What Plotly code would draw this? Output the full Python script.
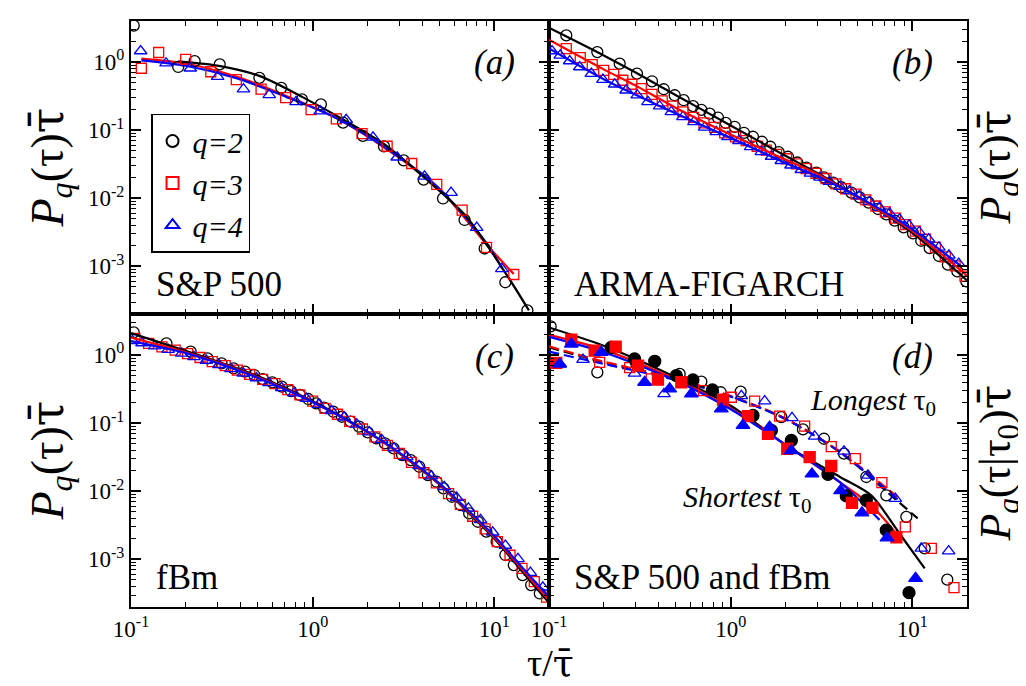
import plotly.graph_objects as go

SERIF = "Liberation Serif"
TAUBAR = '<span style="font-family:DejaVu Serif">τ̄</span>'
BLACK, RED, BLUE = "#000000", "#ff0000", "#0000ff"

# ---------------- Panel (a): S&P 500 ----------------
A_Q2_X = [0.1035, 0.182, 0.224, 0.308, 0.509, 0.672, 0.873, 1.11, 1.47, 1.89, 2.47, 3.17, 4.08, 5.22, 6.86, 8.85, 11.5, 15.2]
A_Q2_Y = [3.43, 0.846, 1.03, 0.925, 0.585, 0.418, 0.282, 0.239, 0.129, 0.0824, 0.0576, 0.036, 0.0188, 0.00993, 0.0048, 0.00183, 0.000585, 0.000226]
A_Q3_X = [0.114, 0.142, 0.2, 0.275, 0.38, 0.52, 0.71, 0.98, 1.35, 1.87, 2.57, 3.51, 4.82, 6.65, 9.06, 12.8]
A_Q3_Y = [0.81, 1.38, 1.09, 0.72, 0.55, 0.4, 0.3, 0.2, 0.146, 0.089, 0.058, 0.0324, 0.016, 0.0067, 0.0019, 0.00076]
A_Q4_X = [0.113, 0.156, 0.212, 0.30, 0.416, 0.577, 0.81, 1.1, 1.53, 2.15, 2.92, 4.13, 5.78, 8.0, 11.0]
A_Q4_Y = [1.45, 0.96, 0.81, 0.61, 0.4, 0.33, 0.26, 0.19, 0.142, 0.0785, 0.04, 0.021, 0.0121, 0.0037, 0.00092]
A_FIT2_X = [0.182, 0.31, 0.513, 0.88, 1.48, 2.5, 4.13, 6.97, 11.7, 15.5]
A_FIT2_Y = [1.02, 0.87, 0.62, 0.305, 0.142, 0.061, 0.02, 0.0055, 0.00075, 0.000226]
A_FIT3_X = [0.114, 0.2, 0.38, 0.71, 1.35, 2.57, 4.82, 9.06, 12.8]
A_FIT3_Y = [1.12, 0.95, 0.61, 0.32, 0.15, 0.052, 0.015, 0.0021, 0.00077]
A_FIT4_X = [0.114, 0.2, 0.38, 0.71, 1.35, 2.57, 4.82, 9.06, 11.0]
A_FIT4_Y = [1.06, 0.88, 0.58, 0.31, 0.15, 0.053, 0.015, 0.0022, 0.00095]

# ---------------- Panel (b): ARMA-FIGARCH ----------------
B_Q2_X = [0.1245, 0.1845, 0.245, 0.305, 0.369, 0.428, 0.492, 0.551, 0.621, 0.690, 0.766, 0.851, 0.939, 1.052,
          1.184, 1.327, 1.487, 1.653, 1.837, 2.068, 2.328, 2.61, 2.962, 3.265, 3.66, 4.065, 4.615, 5.13, 5.75,
          6.47, 7.19, 8.0, 8.96, 10.09, 11.2, 12.46, 14.02, 15.7, 17.69, 19.82]
B_Q2_Y = [2.455, 1.40, 0.946, 0.675, 0.521, 0.398, 0.325, 0.275, 0.225, 0.198, 0.175, 0.153, 0.128, 0.112,
          0.0914, 0.0799, 0.0675, 0.057, 0.0476, 0.0407, 0.0335, 0.0282, 0.0238, 0.0203, 0.017, 0.0145, 0.0121,
          0.0103, 0.00865, 0.00695, 0.0058, 0.00471, 0.00374, 0.00305, 0.00238, 0.00185, 0.00142, 0.00106,
          0.000845, 0.000603]
B_Q3_X = [0.1245, 0.1486, 0.173, 0.2, 0.227, 0.255, 0.286, 0.322, 0.369, 0.42, 0.481, 0.5464, 0.6254, 0.713,
          0.8165, 0.927, 1.065, 1.218, 1.401, 1.57, 1.79, 2.03, 2.3, 2.6, 2.95, 3.35, 3.8, 4.3, 4.9, 5.55, 6.3,
          7.1, 8.1, 9.2, 10.4, 11.8, 13.4, 15.2, 17.2, 19.5]
B_Q3_Y = [1.57, 1.16, 0.916, 0.756, 0.66, 0.54, 0.4715, 0.408, 0.336, 0.2685, 0.2245, 0.1853, 0.1535, 0.128,
          0.1095, 0.0913, 0.0798, 0.07, 0.058, 0.051, 0.044, 0.038, 0.032, 0.0272, 0.0232, 0.0195, 0.0163,
          0.0138, 0.0115, 0.0095, 0.0077, 0.0063, 0.0051, 0.0041, 0.0033, 0.0025, 0.0019, 0.00138, 0.00102,
          0.00072]
B_Q4_X = [0.1039, 0.1153, 0.130, 0.1476, 0.171, 0.198, 0.23, 0.266, 0.306, 0.3505, 0.4065, 0.471, 0.546, 0.628,
          0.719, 0.834, 0.966, 1.111, 1.288, 1.474, 1.68, 1.9, 2.15, 2.45, 2.75, 3.1, 3.5, 4.0, 4.5, 5.1, 5.8,
          6.6, 7.5, 8.5, 9.6, 10.9, 12.3, 14.0, 15.9, 18.0]
B_Q4_Y = [1.45, 1.25, 1.034, 0.845, 0.676, 0.552, 0.4715, 0.385, 0.3255, 0.26, 0.2245, 0.1853, 0.1566, 0.1323,
          0.1095, 0.0944, 0.0798, 0.0697, 0.0569, 0.0481, 0.041, 0.0355, 0.0305, 0.0262, 0.0232, 0.0202, 0.0175,
          0.0148, 0.0128, 0.0108, 0.0089, 0.0073, 0.006, 0.0049, 0.004, 0.0032, 0.0025, 0.0019, 0.00145, 0.0011]
B_FIT2_X = [0.1, 0.2, 0.3, 0.5, 1.0, 2.0, 3.0, 5.0, 10.0, 20.0]
B_FIT2_Y = [3.18, 1.25, 0.70, 0.325, 0.117, 0.042, 0.0235, 0.0105, 0.0031, 0.00062]
B_FIT3_X = [0.1, 0.2, 0.3, 0.5, 1.0, 2.0, 3.0, 5.0, 10.0, 20.0]
B_FIT3_Y = [2.12, 0.78, 0.45, 0.212, 0.086, 0.037, 0.0228, 0.0103, 0.0033, 0.00073]
B_FIT4_X = [0.1, 0.2, 0.3, 0.5, 1.0, 2.0, 3.0, 5.0, 10.0, 18.6]
B_FIT4_Y = [1.58, 0.56, 0.33, 0.175, 0.077, 0.033, 0.021, 0.0106, 0.0035, 0.001]

# ---------------- Panel (c): fBm ----------------
C_Q2_X = [0.1035, 0.1567, 0.213, 0.264, 0.315, 0.367, 0.424, 0.477, 0.531, 0.6, 0.676, 0.76, 0.851, 0.945,
          1.045, 1.155, 1.3, 1.449, 1.616, 1.802, 2.01, 2.24, 2.5, 2.79, 3.108, 3.466, 3.865, 4.31, 4.81, 5.245,
          5.85, 6.52, 7.27, 8.11, 9.04, 10.3, 11.5, 12.8, 14.3, 15.95, 17.8]
C_Q2_Y = [2.15, 1.48, 1.12, 0.894, 0.755, 0.637, 0.569, 0.508, 0.444, 0.397, 0.343, 0.296, 0.259, 0.226,
          0.195, 0.1685, 0.147, 0.124, 0.105, 0.0887, 0.0732, 0.0597, 0.0504, 0.0426, 0.034, 0.0287, 0.0229,
          0.0173, 0.0138, 0.011, 0.0083, 0.00627, 0.00473, 0.00357, 0.00255, 0.00182, 0.00116, 0.000826,
          0.000589, 0.00042, 0.000316]
C_Q3_X = [0.105, 0.125, 0.148, 0.175, 0.205, 0.24, 0.28, 0.33, 0.385, 0.45, 0.53, 0.62, 0.73, 0.85, 1.0, 1.17,
          1.37, 1.6, 1.88, 2.2, 2.58, 3.0, 3.5, 4.1, 4.8, 5.6, 6.5, 7.6, 8.9, 10.4, 12.2, 14.2, 16.6, 19.4]
C_Q3_Y = [1.75, 1.48, 1.32, 1.18, 1.05, 0.92, 0.80, 0.70, 0.60, 0.52, 0.44, 0.38, 0.31, 0.26, 0.21, 0.165,
          0.135, 0.106, 0.082, 0.063, 0.047, 0.036, 0.0265, 0.0187, 0.0133, 0.0092, 0.0064, 0.0043, 0.0028,
          0.00182, 0.00115, 0.00074, 0.00047, 0.00028]
C_Q4_X = [0.102, 0.115, 0.135, 0.16, 0.19, 0.222, 0.26, 0.305, 0.355, 0.415, 0.49, 0.575, 0.675, 0.79, 0.925,
          1.08, 1.27, 1.49, 1.75, 2.05, 2.4, 2.8, 3.3, 3.85, 4.5, 5.3, 6.2, 7.2, 8.4, 9.8, 11.5, 13.5, 15.8, 18.5]
C_Q4_Y = [1.62, 1.5, 1.35, 1.2, 1.06, 0.94, 0.83, 0.72, 0.625, 0.54, 0.46, 0.39, 0.33, 0.275, 0.23, 0.187,
          0.152, 0.122, 0.096, 0.074, 0.057, 0.043, 0.032, 0.0237, 0.0167, 0.0116, 0.0081, 0.0056, 0.0038,
          0.0025, 0.0016, 0.00102, 0.00064, 0.00039]
C_FIT_X = [0.1, 0.2, 0.3, 0.5, 1.0, 2.0, 3.0, 5.0, 7.0, 10.0, 14.0, 20.0]
C_FIT2_Y = [2.1, 1.15, 0.80, 0.49, 0.21, 0.075, 0.036, 0.0125, 0.0052, 0.002, 0.0007, 0.00023]
C_FIT3_Y = [1.8, 1.1, 0.78, 0.47, 0.205, 0.074, 0.036, 0.0127, 0.0054, 0.0021, 0.00075, 0.00025]
C_FIT4_Y = [1.6, 1.07, 0.76, 0.46, 0.205, 0.075, 0.037, 0.013, 0.0056, 0.0022, 0.0008, 0.00028]

# ---------------- Panel (d): S&P 500 and fBm, conditional ----------------
D_S2_X = [0.22, 0.296, 0.382, 0.502, 0.62, 0.793, 1.327, 1.675, 2.158, 3.435, 4.33, 5.58, 7.19, 9.59]
D_S2_Y = [1.295, 0.874, 0.808, 0.499, 0.431, 0.3076, 0.1295, 0.0781, 0.0557, 0.01774, 0.00855, 0.00738, 0.00269, 0.000325]
D_S3_X = [0.1097, 0.1327, 0.1784, 0.2328, 0.309, 0.398, 0.535, 0.9074, 1.246, 1.605, 2.05, 2.722, 3.58, 4.655, 6.03, 8.17]
D_S3_Y = [0.764, 1.677, 1.157, 1.325, 0.698, 0.436, 0.398, 0.222, 0.1265, 0.0698, 0.0421, 0.0318, 0.0235, 0.00675, 0.0057, 0.0021]
D_S4_X = [0.1145, 0.1327, 0.194, 0.336, 0.4616, 0.6075, 0.888, 1.169, 1.639, 2.158, 2.803, 4.03, 5.28, 7.255, 10.42]
D_S4_Y = [0.738, 1.448, 1.094, 0.398, 0.318, 0.2687, 0.162, 0.0925, 0.0874, 0.0394, 0.01795, 0.0102, 0.00482, 0.00207, 0.000527]
D_L2_X = [0.1021, 0.1845, 0.3024, 0.524, 0.6896, 0.881, 1.135, 1.901, 2.5, 3.265, 4.206, 5.58, 7.19, 9.27, 11.7, 15.58]
D_L2_Y = [2.628, 0.5576, 0.738, 0.527, 0.4074, 0.2842, 0.2906, 0.1225, 0.0808, 0.059, 0.0356, 0.0162, 0.00873, 0.00421, 0.00145, 0.000504]
D_L3_X = [0.19, 0.278, 0.366, 0.7101, 1.0085, 1.355, 1.861, 2.555, 3.58, 4.853, 6.8, 9.15, 12.72, 16.96]
D_L3_Y = [0.781, 0.653, 0.4453, 0.3006, 0.2399, 0.21, 0.1265, 0.0904, 0.0451, 0.0301, 0.0134, 0.003, 0.00145, 0.000385]
D_L4_X = [0.1145, 0.1539, 0.296, 0.4296, 1.145, 1.539, 2.176, 2.9, 4.206, 5.7, 8.06, 11.2, 15.85]
D_L4_Y = [0.738, 0.8545, 0.5393, 0.2687, 0.2512, 0.21, 0.1197, 0.0638, 0.0385, 0.01714, 0.00782, 0.00145, 0.001325]
D_FS2_X = [0.1, 0.2, 0.38, 1.0, 2.16, 4.0, 5.94, 8.5, 11.7]
D_FS2_Y = [2.54, 1.37, 0.66, 0.18, 0.042, 0.0162, 0.0087, 0.0024, 0.00074]
D_FS3_X = [0.1, 0.2, 0.5, 1.0, 2.16, 4.0, 5.94, 8.5]
D_FS3_Y = [1.98, 1.2, 0.44, 0.165, 0.042, 0.0135, 0.0062, 0.0021]
D_FS4_X = [0.1, 0.2, 0.5, 1.0, 2.16, 4.0, 6.6]
D_FS4_Y = [1.85, 1.1, 0.42, 0.16, 0.042, 0.0135, 0.0038]
D_FL2_X = [0.1, 0.2, 0.5, 1.0, 2.0, 4.0, 8.0, 10.7]
D_FL2_Y = [1.3, 0.78, 0.445, 0.248, 0.1157, 0.0376, 0.0078, 0.004]
D_FL3_X = [0.1, 0.2, 0.5, 1.0, 2.0, 4.0, 8.5]
D_FL3_Y = [1.34, 0.8, 0.45, 0.25, 0.117, 0.038, 0.0078]
D_FL4_X = [0.1, 0.2, 0.5, 1.0, 2.0, 4.0, 8.5]
D_FL4_Y = [1.12, 0.74, 0.43, 0.245, 0.115, 0.0375, 0.0072]

# tick labels
X_TICKVALS = [0.1, 1, 10]
X_TICKTEXT = ["10<sup>-1</sup>", "10<sup>0</sup>", "10<sup>1</sup>"]
Y_TICKVALS = [0.001, 0.01, 0.1, 1]
Y_TICKTEXT = ["10<sup>-3</sup>", "10<sup>-2</sup>", "10<sup>-1</sup>", "10<sup>0</sup>"]
MINOR_VALS = [m * 10.0 ** e for e in range(-4, 2) for m in range(2, 10)]

fig = go.Figure()


def markers(x, y, ax, color, symbol, name=None, legend=False, size=11):
    fig.add_trace(go.Scatter(
        x=x, y=y, mode="markers", xaxis=ax[0], yaxis=ax[1], name=name, showlegend=legend,
        marker=dict(symbol=symbol, size=size, color=color, line=dict(color=color, width=1.3)),
        hoverinfo="skip"))


def curve(x, y, ax, color, dash="solid", width=2.2):
    fig.add_trace(go.Scatter(
        x=x, y=y, mode="lines", xaxis=ax[0], yaxis=ax[1], showlegend=False,
        line=dict(color=color, width=width, dash=dash, shape="spline", smoothing=0.8),
        hoverinfo="skip"))


AX_A, AX_B, AX_C, AX_D = ("x", "y"), ("x2", "y2"), ("x3", "y3"), ("x4", "y4")

# (a)
curve(A_FIT3_X, A_FIT3_Y, AX_A, RED)
curve(A_FIT4_X, A_FIT4_Y, AX_A, BLUE)
curve(A_FIT2_X, A_FIT2_Y, AX_A, BLACK)
markers(A_Q2_X, A_Q2_Y, AX_A, BLACK, "circle-open", "<i>q=2</i>", True)
markers(A_Q3_X, A_Q3_Y, AX_A, RED, "square-open", "<i>q=3</i>", True, size=10)
markers(A_Q4_X, A_Q4_Y, AX_A, BLUE, "triangle-up-open", "<i>q=4</i>", True)

# (b)
markers(B_Q2_X, B_Q2_Y, AX_B, BLACK, "circle-open")
markers(B_Q3_X, B_Q3_Y, AX_B, RED, "square-open", size=10)
markers(B_Q4_X, B_Q4_Y, AX_B, BLUE, "triangle-up-open")
curve(B_FIT2_X, B_FIT2_Y, AX_B, BLACK)
curve(B_FIT3_X, B_FIT3_Y, AX_B, RED)
curve(B_FIT4_X, B_FIT4_Y, AX_B, BLUE)

# (c)
markers(C_Q2_X, C_Q2_Y, AX_C, BLACK, "circle-open")
markers(C_Q3_X, C_Q3_Y, AX_C, RED, "square-open", size=10)
markers(C_Q4_X, C_Q4_Y, AX_C, BLUE, "triangle-up-open")
curve(C_FIT_X, C_FIT2_Y, AX_C, BLACK)
curve(C_FIT_X, C_FIT3_Y, AX_C, RED)
curve(C_FIT_X, C_FIT4_Y, AX_C, BLUE)

# (d)
curve(D_FL2_X, D_FL2_Y, AX_D, BLACK, dash="10px,5px")
curve(D_FL3_X, D_FL3_Y, AX_D, RED, dash="10px,5px")
curve(D_FL4_X, D_FL4_Y, AX_D, BLUE, dash="10px,5px")
curve(D_FS2_X, D_FS2_Y, AX_D, BLACK)
curve(D_FS3_X, D_FS3_Y, AX_D, RED)
curve(D_FS4_X, D_FS4_Y, AX_D, BLUE)
markers(D_L2_X, D_L2_Y, AX_D, BLACK, "circle-open")
markers(D_L3_X, D_L3_Y, AX_D, RED, "square-open", size=10)
markers(D_L4_X, D_L4_Y, AX_D, BLUE, "triangle-up-open")
markers(D_S2_X, D_S2_Y, AX_D, BLACK, "circle", size=12)
markers(D_S3_X, D_S3_Y, AX_D, RED, "square", size=11)
markers(D_S4_X, D_S4_Y, AX_D, BLUE, "triangle-up", size=12)


def axis(domain, anchor, is_x, labels):
    d = dict(
        domain=domain, anchor=anchor, type="log", showline=True, linecolor="black", linewidth=2,
        mirror="allticks", ticks="inside", ticklen=10, tickwidth=1.5, tickcolor="black",
        showgrid=False, zeroline=False, tickmode="array", showticklabels=labels,
        tickfont=dict(family=SERIF, size=23, color="black"),
        minor=dict(ticks="inside", ticklen=5, tickwidth=1.2, tickcolor="black",
                   tickmode="array", tickvals=MINOR_VALS, showgrid=False),
    )
    if is_x:
        d.update(range=[-1, 1.30103], tickvals=X_TICKVALS, ticktext=X_TICKTEXT)
    else:
        d.update(range=[-3.699, 0.602], tickvals=Y_TICKVALS, ticktext=Y_TICKTEXT)
    return d


fig.update_layout(
    width=1026, height=686,
    margin=dict(l=123, r=67, t=11, b=87),
    paper_bgcolor="white", plot_bgcolor="white",
    font=dict(family=SERIF, color="black"),
    xaxis=axis([0, 0.5], "y", True, False),
    yaxis=axis([0.5, 1], "x", False, True),
    xaxis2=axis([0.5, 1], "y2", True, False),
    yaxis2=axis([0.5, 1], "x2", False, False),
    xaxis3=axis([0, 0.5], "y3", True, True),
    yaxis3=axis([0, 0.5], "x3", False, True),
    xaxis4=axis([0.5, 1], "y4", True, True),
    yaxis4=axis([0, 0.5], "x4", False, False),
    legend=dict(x=0.024, y=0.842, xanchor="left", yanchor="top", bordercolor="black", borderwidth=1.5,
                bgcolor="white", font=dict(family=SERIF, size=30, color="black"), tracegroupgap=0,
                itemsizing="constant"),
)

ann = []


def label(text, xref, yref, x, y, size, xanchor="center", yanchor="middle", angle=0):
    ann.append(dict(text=text, xref=xref, yref=yref, x=x, y=y, showarrow=False, xanchor=xanchor,
                    yanchor=yanchor, textangle=angle, font=dict(family=SERIF, size=size, color="black")))


label("<i>(a)</i>", "x domain", "y domain", 0.87, 0.857, 35)
label("<i>(b)</i>", "x2 domain", "y2 domain", 0.87, 0.857, 35)
label("<i>(c)</i>", "x3 domain", "y3 domain", 0.87, 0.854, 35)
label("<i>(d)</i>", "x4 domain", "y4 domain", 0.87, 0.854, 35)
label("S&amp;P 500", "x domain", "y domain", 0.055, 0.10, 35, xanchor="left")
label("ARMA-FIGARCH", "x2 domain", "y2 domain", 0.055, 0.10, 35, xanchor="left")
label("fBm", "x3 domain", "y3 domain", 0.055, 0.10, 35, xanchor="left")
label("S&amp;P 500 and fBm", "x4 domain", "y4 domain", 0.055, 0.10, 35, xanchor="left")
label("<i>Longest</i> τ<sub>0</sub>", "x4 domain", "y4 domain", 0.62, 0.70, 30, xanchor="left")
label("<i>Shortest</i> τ<sub>0</sub>", "x4 domain", "y4 domain", 0.315, 0.37, 30, xanchor="left")
label("<i>P</i><sub><i>q</i></sub>(τ)" + TAUBAR, "paper", "paper", -0.098, 0.75, 46, angle=-90)
label("<i>P</i><sub><i>q</i></sub>(τ)" + TAUBAR, "paper", "paper", -0.098, 0.25, 46, angle=-90)
label("<i>P</i><sub><i>q</i></sub>(τ)" + TAUBAR, "paper", "paper", 1.036, 0.75, 44, angle=-90)
label("<i>P</i><sub><i>q</i></sub>(τ|τ<sub>0</sub>)" + TAUBAR, "paper", "paper", 1.036, 0.245, 44, angle=-90)
label("τ/" + TAUBAR, "paper", "paper", 0.502, -0.096, 38, yanchor="middle")
fig.update_layout(annotations=ann)

fig.write_html("out.html")
